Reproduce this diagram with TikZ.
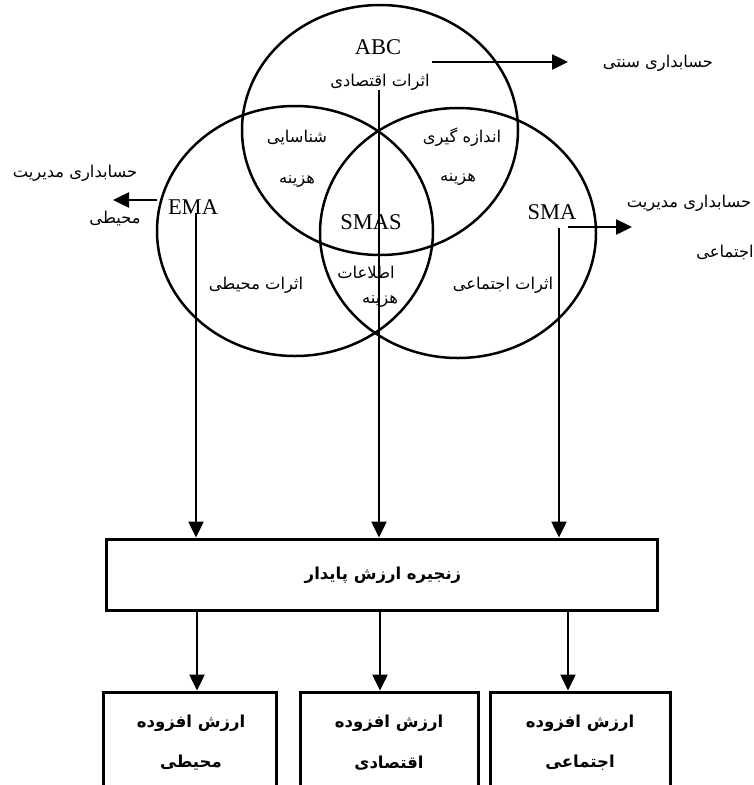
\documentclass[tikz,border=0pt]{standalone}
\usepackage{fontspec}
\setmainfont{Liberation Serif}
\newfontfamily\farsi[Script=Arabic]{DejaVu Sans}
\TeXXeTstate=1
\usetikzlibrary{shapes.geometric,arrows.meta,positioning}

\newcommand{\fa}[1]{\beginR #1\endR}

\begin{document}
\begin{tikzpicture}[x=1pt,y=-1pt]
		\tikzstyle {venn} = [draw, ellipse, line width=2.5pt, minimum width=276pt, minimum height=250pt, inner sep=0pt]
		\tikzstyle {latin} = [font=\fontsize{22.5}{26}\selectfont, inner sep=0pt]
		\tikzstyle {fatext} = [font=\farsi\fontsize{16.3}{18}\selectfont, inner sep=0pt]
		\tikzstyle {fabold} = [font=\farsi\bfseries\fontsize{16.5}{18}\selectfont, inner sep=0pt]
		\tikzstyle {box} = [draw, line width=3pt, inner sep=0pt]
		\tikzstyle {flow} = [line width=2.5pt, -{Triangle[length=16pt,width=15pt]}]

		\useasboundingbox (0,0) rectangle (753,785);
		\clip (0,0) rectangle (753,785);

		\node[venn] (abc) at (380,130) {};
		\node[venn] (ema) at (295,231) {};
		\node[venn] (sma) at (458,233) {};

		\node[latin] (abc-l) at (378,47) {ABC};
		\node[latin] (ema-l) at (193,207) {EMA};
		\node[latin] (sma-l) at (552,212) {SMA};
		\node[latin] (smas-l) at (371,222) {SMAS};

		\node[fatext] (econ) at (380,82) {\fa{اثرات اقتصادی}};
		\node[fatext] (trad) at (658,63) {\fa{حسابداری سنتی}};
		\node[fatext] (ident1) at (297,137) {\fa{شناسایی}};
		\node[fatext] (ident2) at (297,182) {\fa{هزینه}};
		\node[fatext] (meas1) at (462,137) {\fa{اندازه گیری}};
		\node[fatext] (meas2) at (458,180) {\fa{هزینه}};
		\node[fatext] (emaout1) at (75,173) {\fa{حسابداری مدیریت}};
		\node[fatext] (emaout2) at (115,218) {\fa{محیطی}};
		\node[fatext] (smaout1) at (689,203) {\fa{حسابداری مدیریت}};
		\node[fatext] (smaout2) at (725,252) {\fa{اجتماعی}};
		\node[fatext] (envimp) at (256,285) {\fa{اثرات محیطی}};
		\node[fatext] (info1) at (366,272) {\fa{اطلاعات}};
		\node[fatext] (info2) at (380,302) {\fa{هزینه}};
		\node[fatext] (socimp) at (503,285) {\fa{اثرات اجتماعی}};

		\node[box, minimum width=551pt, minimum height=71pt] (chain) at (381.5,574.5) {};
		\node[fabold] (chain-l) at (383,575) {\fa{زنجیره ارزش پایدار}};

		\node[box, minimum width=173pt, minimum height=110pt] (envval) at (189.5,747) {};
		\node[box, minimum width=178pt, minimum height=110pt] (ecoval) at (389,747) {};
		\node[box, minimum width=180pt, minimum height=110pt] (socval) at (580,747) {};
		\node[fabold] (envval1) at (191,723) {\fa{ارزش افزوده}};
		\node[fabold] (envval2) at (191,763) {\fa{محیطی}};
		\node[fabold] (ecoval1) at (389,723) {\fa{ارزش افزوده}};
		\node[fabold] (ecoval2) at (389,763) {\fa{اقتصادی}};
		\node[fabold] (socval1) at (580,723) {\fa{ارزش افزوده}};
		\node[fabold] (socval2) at (580,763) {\fa{اجتماعی}};

		\coordinate (abc-a) at (432,62);
		\coordinate (abc-b) at (568,62);
		\coordinate (ema-a) at (157,200);
		\coordinate (ema-b) at (113,200);
		\coordinate (sma-a) at (568,227);
		\coordinate (sma-b) at (632,227);
		\draw[flow] (abc-a) -- (abc-b);
		\draw[flow] (ema-a) -- (ema-b);
		\draw[flow] (sma-a) -- (sma-b);

		\coordinate (ema-s) at (196,213);
		\coordinate (abc-s) at (379,90);
		\coordinate (sma-s) at (559,228);
		\draw[flow] (ema-s) -- (ema-s |- chain.north);
		\draw[flow] (abc-s) -- (abc-s |- chain.north);
		\draw[flow] (sma-s) -- (sma-s |- chain.north);

		\coordinate (env-x) at (197,0);
		\coordinate (eco-x) at (380,0);
		\coordinate (soc-x) at (568,0);
		\draw[flow] (chain.south -| env-x) -- (envval.north -| env-x);
		\draw[flow] (chain.south -| eco-x) -- (ecoval.north -| eco-x);
		\draw[flow] (chain.south -| soc-x) -- (socval.north -| soc-x);
\end{tikzpicture}
\end{document}
